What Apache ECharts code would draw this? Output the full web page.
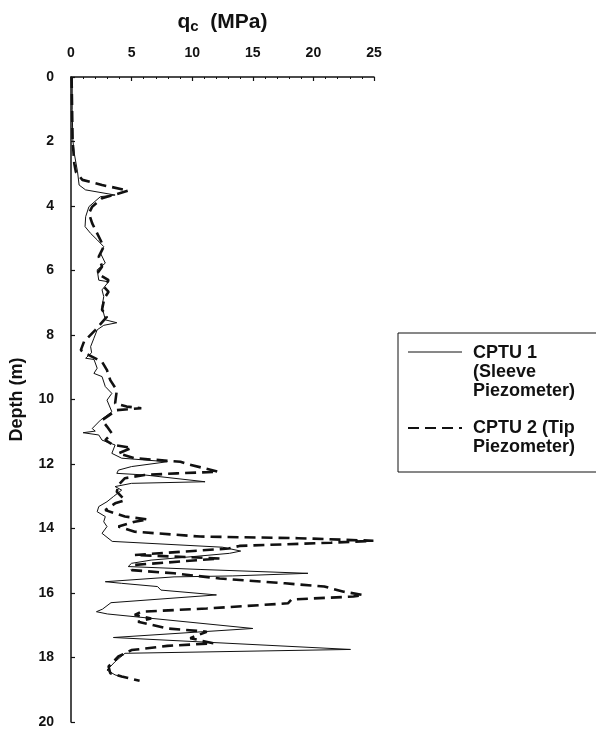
<!DOCTYPE html>
<html>
<head>
<meta charset="utf-8">
<script src="https://cdn.jsdelivr.net/npm/echarts@6/dist/echarts.min.js"></script>
<style>
  html, body { margin: 0; padding: 0; background: #fff; }
  #chart { width: 596px; height: 731px; }
</style>
</head>
<body>
<div id="chart"></div>
<script>
// CPT profile: cone resistance qc (MPa) against depth (m), two soundings.
var qcTicks = [0, 5, 10, 15, 20, 25];
var depthTicks = [0, 2, 4, 6, 8, 10, 12, 14, 16, 18, 20];

// CPTU 1 (sleeve piezometer)
var cptu1Depth = [0, 1.0, 1.95, 2.37, 2.94, 3.35, 3.5, 3.66, 3.71, 4.02, 4.33, 4.64, 4.85, 5.05, 5.26, 5.46,
  5.77, 5.98, 6.3, 6.35, 6.6, 6.81, 7.12, 7.53, 7.62, 7.7, 7.84, 8.1, 8.36, 8.55, 8.72, 8.76, 9.03, 9.19,
  9.29, 9.6, 9.81, 10.02, 10.38, 10.64, 10.9, 10.98, 11.03, 11.1, 11.26, 11.41, 11.67, 11.82, 11.93, 12.08,
  12.19, 12.29, 12.34, 12.55, 12.6, 12.7, 12.81, 13.01, 13.17, 13.32, 13.48, 13.63, 13.79, 13.94, 14.15,
  14.4, 14.58, 14.7, 14.77, 14.87, 14.98, 15.08, 15.18, 15.27, 15.39, 15.47, 15.5, 15.65, 15.7, 15.8,
  15.91, 16.06, 16.3, 16.5, 16.58, 16.65, 17.1, 17.38, 17.75, 17.87, 18.13, 18.39, 18.54, 18.6];
var cptu1Qc = [0.1, 0.1, 0.15, 0.27, 0.54, 0.67, 1.2, 3.64, 2.43, 1.48, 1.21, 1.16, 1.62, 2.16, 2.7, 2.43,
  2.83, 2.16, 2.29, 3.1, 2.56, 2.7, 2.56, 2.83, 3.78, 2.7, 2.16, 1.89, 1.62, 1.7, 1.21, 1.9, 2.16, 1.89,
  2.56, 2.83, 3.37, 2.97, 3.37, 2.43, 1.75, 2.0, 1.0, 2.29, 2.56, 3.64, 3.37, 4.18, 7.95, 4.99,
  3.91, 3.78, 6.07, 11.06, 4.99, 3.64, 4.18, 3.5, 2.97, 2.29, 2.16, 2.83, 2.7, 2.97, 2.56,
  3.4, 12.5, 14.0, 13.08, 10.11, 6.61, 4.99, 4.72, 10.65, 19.55, 13.35, 8.5, 2.83, 4.18, 7.14,
  7.42, 12.0, 3.3, 2.6, 2.1, 3.0, 15.0, 3.5, 23.06, 4.45, 3.64, 2.97, 3.64, 4.2];

// CPTU 2 (tip piezometer)
var cptu2Depth = [0, 1.95, 2.68, 2.94, 3.19, 3.35, 3.52, 3.66, 3.76, 4.02, 4.23, 4.54, 4.85, 5.26, 5.57,
  5.88, 6.09, 6.3, 6.5, 6.66, 6.86, 7.22, 7.43, 7.84, 8.2, 8.47, 8.57, 8.83, 9.09, 9.4, 9.71, 10.12,
  10.22, 10.27, 10.33, 10.64, 10.84, 11.05, 11.26, 11.41, 11.5, 11.67, 11.82, 11.93, 12.0, 12.24, 12.29,
  12.34, 12.44, 12.65, 12.86, 13.12, 13.22, 13.43, 13.63, 13.72, 13.79, 13.94, 14.1, 14.25, 14.3, 14.38,
  14.44, 14.54, 14.62, 14.82, 14.93, 15.13, 15.29, 15.39, 15.55, 15.7, 15.8, 15.96, 16.06, 16.11, 16.2,
  16.32, 16.48, 16.58, 16.68, 16.79, 16.89, 17.1, 17.2, 17.4, 17.56, 17.64, 17.77, 17.97, 18.28, 18.49,
  18.59, 18.72];
var cptu2Qc = [0.05, 0.13, 0.27, 0.4, 0.94, 2.56, 4.72, 3.5, 2.56, 1.75, 1.48, 1.75, 2.16, 2.7, 2.29,
  2.56, 2.16, 3.1, 2.7, 3.1, 2.75, 2.56, 2.97, 2.02, 1.08, 0.81, 1.21, 2.56, 2.97, 3.24, 3.78, 3.64,
  4.59, 5.8, 3.78, 2.56, 2.97, 3.37, 2.83, 3.5, 5.0, 3.91, 5.26, 9.03, 9.6, 12.14, 8.76,
  6.07, 4.45, 3.91, 3.78, 4.45, 3.64, 2.83, 4.45, 6.34, 5.26, 3.91, 5.26, 10.65, 18.74, 24.95,
  21.44, 13.9, 13.0, 5.26, 12.27, 5.26, 5.0, 8.5, 12.27, 17.66, 20.9, 22.5, 24.1, 23.3, 18.2,
  17.9, 11.2, 5.8, 5.26, 6.61, 5.53, 7.95, 11.2, 9.84, 11.73, 7.95, 4.99, 3.91, 3.1, 3.24,
  4.18, 5.66];

var names = ["CPTU 1\n(Sleeve\nPiezometer)", "CPTU 2 (Tip\nPiezometer)"];

function pairs(qs, ds) {
  return qs.map(function (q, i) { return [q, ds[i]]; });
}

var FONT = "'Liberation Sans', Arial, Helvetica, sans-serif";
var INK = "#111";

var chart = echarts.init(document.getElementById("chart"));
chart.setOption({
  animation: false,
  backgroundColor: "#fff",
  grid: { left: 65, top: 77, right: 222, bottom: 9, containLabel: false },
  xAxis: {
    type: "value", position: "top",
    min: qcTicks[0], max: qcTicks[qcTicks.length - 1], interval: 5,
    name: "{q|q}{c|c}{r|  (MPa)}",
    nameLocation: "middle", nameGap: 43,
    nameTextStyle: {
      fontFamily: FONT, color: INK,
      rich: {
        q: { fontSize: 21, fontWeight: "bold", fontFamily: FONT, color: INK, lineHeight: 24, verticalAlign: "middle" },
        c: { fontSize: 15, fontWeight: "bold", fontFamily: FONT, color: INK, lineHeight: 15, verticalAlign: "bottom" },
        r: { fontSize: 21, fontWeight: "bold", fontFamily: FONT, color: INK, lineHeight: 24, verticalAlign: "middle" }
      }
    },
    axisLine: { show: true, lineStyle: { color: INK, width: 1.5 } },
    axisTick: { show: true, inside: true, length: 4, lineStyle: { color: INK, width: 1.2 } },
    minorTick: { show: true, splitNumber: 5, length: 2, lineStyle: { color: INK, width: 1 } },
    axisLabel: { fontFamily: FONT, fontSize: 14, fontWeight: "bold", color: INK, margin: 17 },
    splitLine: { show: false }
  },
  yAxis: {
    type: "value", inverse: true,
    min: depthTicks[0], max: depthTicks[depthTicks.length - 1], interval: 2,
    name: "Depth (m)", nameLocation: "middle", nameGap: 45, nameRotate: 90,
    nameTextStyle: { fontFamily: FONT, fontSize: 18, fontWeight: "bold", color: INK },
    axisLine: { show: true, lineStyle: { color: INK, width: 1.5 } },
    axisTick: { show: true, inside: true, length: 4, lineStyle: { color: INK, width: 1.2 } },
    axisLabel: { fontFamily: FONT, fontSize: 14, fontWeight: "bold", color: INK, margin: 17 },
    splitLine: { show: false }
  },
  series: [
    {
      name: names[0], type: "line", data: pairs(cptu1Qc, cptu1Depth),
      showSymbol: false, smooth: false,
      lineStyle: { color: INK, width: 1 }
    },
    {
      name: names[1], type: "line", data: pairs(cptu2Qc, cptu2Depth),
      showSymbol: false, smooth: false,
      lineStyle: { color: INK, width: 2.6, type: [11, 6] }
    }
  ],
  // boxed key at the right, running off the page edge as in the scan
  graphic: [
    { type: "rect", shape: { x: 398, y: 333, width: 220, height: 139 },
      style: { fill: "none", stroke: INK, lineWidth: 1 } },
    { type: "line", shape: { x1: 408, y1: 352, x2: 462, y2: 352 },
      style: { stroke: INK, lineWidth: 1 } },
    { type: "text", left: 473, top: 344,
      style: { text: names[0], font: "bold 18px " + FONT, fill: INK, lineHeight: 19 } },
    { type: "line", shape: { x1: 408, y1: 428, x2: 462, y2: 428 },
      style: { stroke: INK, lineWidth: 2.2, lineDash: [11, 6] } },
    { type: "text", left: 473, top: 419,
      style: { text: names[1], font: "bold 18px " + FONT, fill: INK, lineHeight: 19 } }
  ]
});
</script>
</body>
</html>
